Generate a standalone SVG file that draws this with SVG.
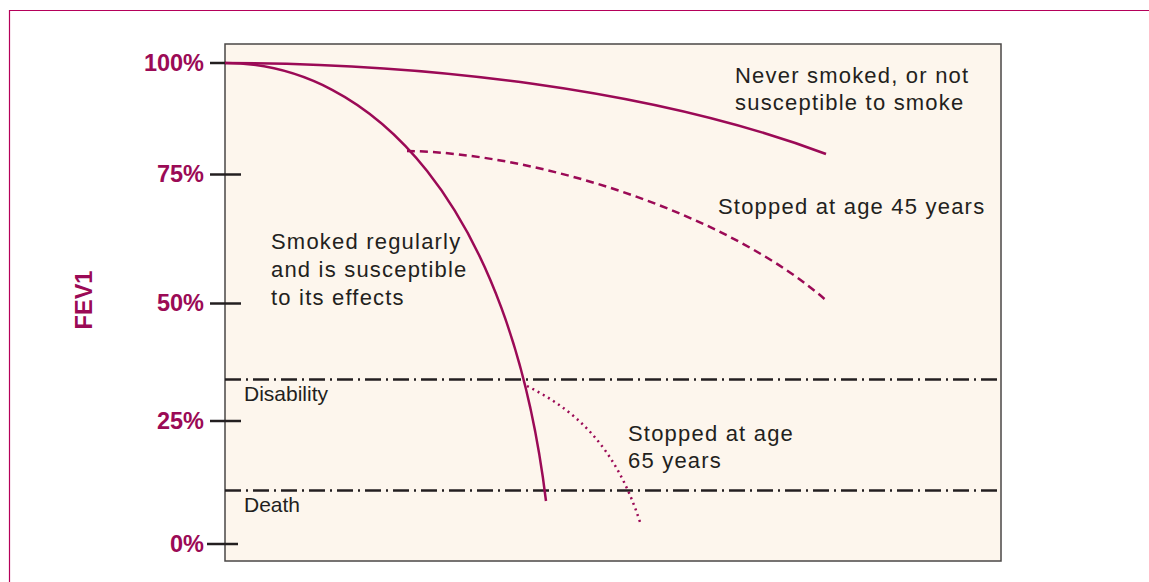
<svg xmlns="http://www.w3.org/2000/svg" width="1149" height="582" viewBox="0 0 1149 582">
<style>
.lbl{font-family:"Liberation Sans",Arial,sans-serif;font-size:22px;letter-spacing:1.2px;fill:#231f20}
.small{font-family:"Liberation Sans",Arial,sans-serif;font-size:21px;fill:#231f20}
.ax{font-family:"Liberation Sans",Arial,sans-serif;font-size:23.5px;font-weight:bold;fill:#9b0a56;text-anchor:end}
.tick{stroke:#231f20;stroke-width:2.5}
.curve{fill:none;stroke:#9b0a56;stroke-width:2.5}
.ref{stroke:#231f20;stroke-width:2.5;stroke-dasharray:16 5 2 5}
</style>
<rect width="1149" height="582" fill="#ffffff"/>
<path d="M9.5,600 V10.5 H1160" fill="none" stroke="#b5005a" stroke-width="1.2"/>
<g id="plot">
<rect x="225" y="44" width="776" height="517" fill="#fdf6ed" stroke="#4a4746" stroke-width="1.5"/>
</g>
<g id="axis">
<line class="tick" x1="210" y1="63" x2="226" y2="63"/>
<line class="tick" x1="210" y1="174.5" x2="241" y2="174.5"/>
<line class="tick" x1="210" y1="303.5" x2="241" y2="303.5"/>
<line class="tick" x1="210" y1="421" x2="241" y2="421"/>
<line class="tick" x1="207" y1="544" x2="238" y2="544"/>
<text class="ax" x="204" y="71">100%</text>
<text class="ax" x="204" y="182">75%</text>
<text class="ax" x="204" y="311">50%</text>
<text class="ax" x="204" y="429">25%</text>
<text class="ax" x="204" y="552">0%</text>
<text class="ax" transform="translate(92,300) rotate(-90)" style="text-anchor:middle">FEV1</text>
</g>
<g id="thresholds">
<line class="ref" x1="225" y1="379.5" x2="999" y2="379.5"/>
<line class="ref" x1="225" y1="490.5" x2="997" y2="490.5"/>
<text class="small" x="244" y="401">Disability</text>
<text class="small" x="244" y="512">Death</text>
</g>
<g id="connectors">
<path id="never" class="curve" d="M225,63 C420,63 650,88 826,154"/>
<path id="smoked" class="curve" d="M225,63 C372,63 510,205 546,501"/>
<path id="stop45" class="curve" d="M407,151 C540,153 730,215 828,302" stroke-dasharray="8 5" stroke-width="2.7"/>
<path id="stop65" class="curve" d="M527,386 C575,410 615,445 640,522" stroke-width="2.2" stroke-dasharray="2 4"/>
</g>
<g id="label-never"><text class="lbl" x="735" y="83">Never smoked, or not</text><text class="lbl" x="735" y="110">susceptible to smoke</text></g>
<g id="label-45"><text class="lbl" x="718" y="214">Stopped at age 45 years</text></g>
<g id="label-smoked"><text class="lbl" x="271" y="249">Smoked regularly</text><text class="lbl" x="271" y="277">and is susceptible</text><text class="lbl" x="271" y="305">to its effects</text></g>
<g id="label-65"><text class="lbl" x="628" y="441">Stopped at age</text><text class="lbl" x="628" y="468">65 years</text></g>
</svg>
